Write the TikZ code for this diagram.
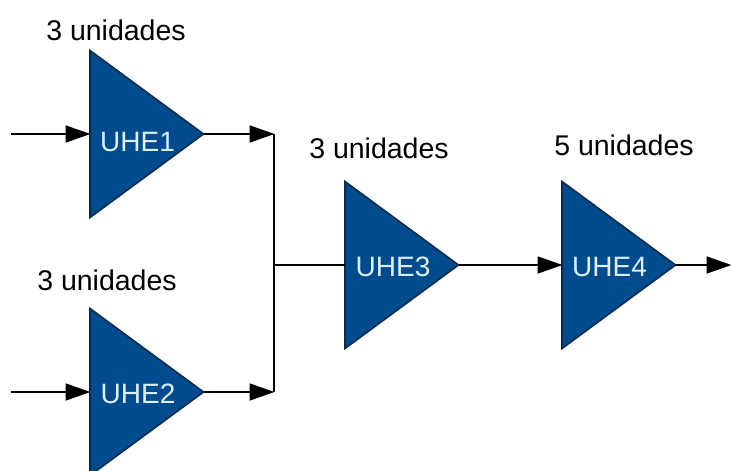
\documentclass[tikz,border=0pt]{standalone}
\usepackage{fontspec}
\setmainfont{Liberation Sans}
\usepackage{tikz}
\usetikzlibrary{shapes.geometric,arrows.meta}
\definecolor{plantblue}{HTML}{004B8D}
\definecolor{plantedge}{HTML}{0A2A4A}
\definecolor{plantlabel}{HTML}{DDF0FA}
\tikzset{
  plant/.style={isosceles triangle, isosceles triangle stretches, shape border rotate=0,
    minimum width=167pt, minimum height=113.5pt, inner sep=0pt, outer sep=0pt, anchor=lower side,
    fill=plantblue, draw=plantedge, line width=1.6pt},
  plantname/.style={text=plantlabel, font=\fontsize{28}{30}\selectfont},
  units/.style={black, font=\fontsize{28.5}{32}\selectfont, inner sep=0pt},
  wire/.style={draw=black, line width=1.8pt},
  arrow/.style={wire, -{Triangle[length=25pt,width=17pt]}, shorten >=-0.5pt}
}
\begin{document}
\begin{tikzpicture}[x=1pt,y=-1pt]
  \useasboundingbox (0,0) rectangle (731,471);
  \clip (0,0) rectangle (731,471);
  % inflow and junction points
  \coordinate (ina) at (11,134);
  \coordinate (inb) at (11,392);
  \coordinate (joina) at (274,134);
  \coordinate (joinb) at (274,392);
  \coordinate (joinc) at (274,265);
  \coordinate (out) at (731,265);
  % plants
  \node[plant] (uhea) at (90,134) {};
  \node[plant] (uheb) at (90,392) {};
  \node[plant] (uhec) at (345,265) {};
  \node[plant] (uhed) at (562,265) {};
  \node[plantname] (namea) at (137.5,142) {UHE1};
  \node[plantname] (nameb) at (138,394) {UHE2};
  \node[plantname] (namec) at (393,267) {UHE3};
  \node[plantname] (named) at (609.5,267) {UHE4};
  % units
  \node[units] (unitsa) at (116,30) {3 unidades};
  \node[units] (unitsb) at (107,280) {3 unidades};
  \node[units] (unitsc) at (379,148) {3 unidades};
  \node[units] (unitsd) at (624,145) {5 unidades};
  % connections
  \draw[wire] (joina) -- (joinb);
  \draw[wire] (joinc) -- (uhec.lower side);
  \draw[arrow] (ina) -- (uhea.lower side);
  \draw[arrow] (inb) -- (uheb.lower side);
  \draw[arrow] (uhea.apex) -- (joina);
  \draw[arrow] (uheb.apex) -- (joinb);
  \draw[arrow] (uhec.apex) -- (uhed.lower side);
  \draw[arrow] (uhed.apex) -- (out);
\end{tikzpicture}
\end{document}
